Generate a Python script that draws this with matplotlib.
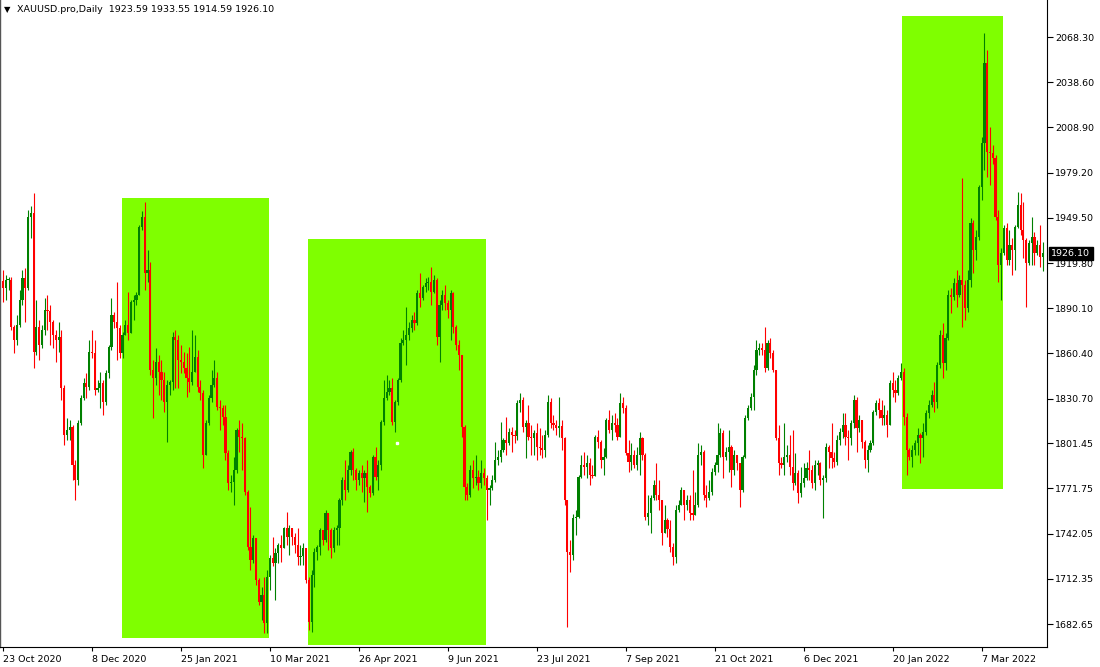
import numpy as np
import matplotlib.pyplot as plt
import matplotlib.transforms as mtransforms
from matplotlib.patches import Rectangle

# daily XAUUSD bars (open = previous close)
first_open = 1908.0
closes = [
    # Oct - Nov 2020
    1903.4, 1908.6, 1908.6, 1877.8, 1869.2, 1879.1, 1895.5, 1910.0, 1903.4, 1950.0, 1952.7, 1861.3,
    1877.8, 1865.9, 1875.8, 1888.9, 1888.3, 1881.0, 1872.5, 1869.2, 1871.2, 1837.7, 1806.8, 1810.1,
    1812.1, 1787.1, 1777.2, 1814.7, 1831.1, 1841.0, 1838.3, 1861.3,
    # Dec 2020 - Jan 2021
    1860.7, 1836.4, 1837.7, 1841.0, 1828.5, 1847.5, 1864.6, 1885.7, 1881.0, 1877.1, 1860.7, 1872.5,
    1879.1, 1873.8, 1894.2, 1895.5, 1898.8, 1943.5, 1950.0, 1913.2, 1915.2, 1849.5, 1844.3, 1854.8,
    1848.2, 1842.9, 1828.5, 1839.7, 1841.6, 1871.2, 1869.2,
    # Jan - Mar 2021
    1856.1, 1854.8, 1850.8, 1844.3, 1841.6, 1848.2, 1858.0, 1838.3, 1834.4, 1793.7, 1814.7, 1831.1,
    1839.7, 1844.3, 1825.2, 1824.5, 1818.6, 1795.0, 1775.3, 1775.9, 1783.8, 1810.1, 1805.5, 1804.8,
    1769.4, 1733.2, 1724.7, 1739.1, 1711.5, 1697.1, 1701.7, 1683.3,
    # Mar - Apr 2021
    1713.5, 1726.0, 1722.7, 1729.3, 1734.6, 1732.6, 1745.7, 1739.8, 1745.7, 1739.8, 1734.6, 1726.6,
    1727.3, 1732.6, 1711.5, 1683.9, 1714.8, 1729.9, 1733.2, 1744.4, 1737.8, 1755.6, 1744.4, 1732.6,
    1744.4, 1745.7, 1764.1, 1777.2, 1770.7, 1783.8, 1795.6, 1783.8,
    # Apr - Jun 2021
    1777.2, 1781.8, 1778.5, 1781.8, 1772.6, 1768.7, 1792.3, 1779.2, 1787.1, 1815.3, 1831.1, 1835.0,
    1837.7, 1815.3, 1828.5, 1842.9, 1867.2, 1869.2, 1872.5, 1877.1, 1882.4, 1880.4, 1900.1, 1896.8,
    1904.0, 1906.7, 1907.3, 1900.8, 1908.6, 1871.2, 1892.2, 1898.8,
    # Jun - Jul 2021
    1893.5, 1888.9, 1900.1, 1877.8, 1865.9, 1859.4, 1812.1, 1772.6, 1767.4, 1783.8, 1778.5, 1779.2,
    1775.3, 1781.8, 1778.5, 1770.7, 1772.0, 1777.2, 1790.4, 1792.3, 1796.9, 1803.5, 1801.5, 1808.8,
    1806.8, 1806.0, 1827.8, 1829.8, 1812.1, 1814.7, 1805.5,
    # Jul - Sep 2021
    1804.8, 1808.1, 1798.9, 1798.3, 1796.9, 1806.8, 1828.5, 1814.7, 1813.4, 1811.4, 1813.0, 1804.8,
    1764.1, 1729.9, 1728.0, 1752.3, 1752.9, 1779.2, 1787.1, 1785.8, 1788.4, 1780.5, 1779.8, 1805.5,
    1802.2, 1790.4, 1792.3, 1816.7, 1810.1, 1814.7, 1813.4, 1805.5,
    # Sep - Oct 2021
    1827.8, 1824.5, 1795.0, 1789.1, 1793.7, 1787.1, 1793.7, 1804.8, 1793.7, 1752.9, 1755.6, 1765.4,
    1773.9, 1767.4, 1764.1, 1742.4, 1751.0, 1745.0, 1733.2, 1726.6, 1757.5, 1760.8, 1770.7, 1760.8,
    1764.1, 1755.6, 1754.3, 1760.8, 1793.7, 1795.6, 1767.4,
    # Oct - Dec 2021
    1765.4, 1769.4, 1782.5, 1787.1, 1793.7, 1808.1, 1792.3, 1795.6, 1798.9, 1783.8, 1793.7, 1788.4,
    1770.7, 1792.3, 1818.0, 1824.5, 1831.8, 1849.5, 1862.6, 1863.9, 1862.6, 1850.8, 1867.2, 1860.7,
    1849.5, 1804.8, 1788.4, 1787.1, 1792.3, 1793.7, 1785.8, 1775.3,
    # Dec 2021 - Jan 2022
    1781.8, 1768.7, 1775.3, 1778.5, 1785.1, 1783.8, 1775.3, 1787.1, 1788.4, 1777.2, 1778.5, 1798.9,
    1795.6, 1791.7, 1789.1, 1803.5, 1808.8, 1813.4, 1805.5, 1804.8, 1814.7, 1829.8, 1811.4, 1816.7,
    1802.2, 1790.4, 1796.9, 1801.5, 1821.9, 1827.8, 1823.2, 1818.0,
    # Jan - Feb 2022
    1819.9, 1813.4, 1841.0, 1836.4, 1834.4, 1844.3, 1848.2, 1818.6, 1796.9, 1792.3, 1796.9, 1801.5,
    1806.8, 1804.8, 1808.8, 1821.3, 1826.5, 1833.1, 1828.5, 1852.8, 1872.5, 1854.1, 1870.5, 1898.8,
    1897.5, 1906.7, 1898.8, 1908.6, 1905.4, 1890.2, 1908.6,
    # Mar - Apr 2022
    1946.1, 1928.4, 1936.9, 1969.7, 1998.6, 2051.2, 1992.7, 1992.1, 1988.8, 1950.0, 1918.5, 1926.4,
    1942.8, 1921.8, 1931.6, 1928.4, 1943.5, 1957.9, 1941.5, 1934.9, 1919.8, 1932.9, 1936.9, 1926.4,
    1931.6, 1923.59, 1926.10,
]
highs = [
    1915.2, 1911.9, 1910.6, 1910.6, 1879.1, 1885.7, 1902.1, 1915.2, 1916.5, 1954.6, 1957.3, 1965.8,
    1895.5, 1882.4, 1879.1, 1896.8, 1898.8, 1892.2, 1882.4, 1875.8, 1881.0, 1875.8, 1839.7, 1818.0,
    1816.7, 1813.4, 1790.4, 1816.7, 1833.1, 1844.3, 1847.5, 1869.2,
    1875.8, 1869.2, 1842.9, 1848.2, 1842.9, 1849.5, 1865.9, 1896.8, 1887.6, 1907.3, 1879.1, 1874.5,
    1882.4, 1900.8, 1895.5, 1898.8, 1900.8, 1944.8, 1954.0, 1959.9, 1928.4, 1920.5, 1856.1, 1863.9,
    1859.4, 1856.1, 1848.2, 1842.9, 1842.9, 1874.5, 1875.8,
    1872.5, 1865.9, 1861.3, 1860.7, 1864.6, 1875.8, 1872.5, 1862.6, 1842.9, 1836.4, 1816.7, 1833.1,
    1849.5, 1856.1, 1848.2, 1829.8, 1826.5, 1826.5, 1796.9, 1780.5, 1792.3, 1811.4, 1816.7, 1814.7,
    1805.5, 1770.7, 1759.5, 1741.1, 1737.8, 1712.8, 1706.9, 1713.5,
    1718.1, 1728.0, 1739.8, 1732.6, 1735.9, 1741.1, 1746.4, 1756.2, 1747.7, 1745.7, 1742.4, 1745.7,
    1734.6, 1735.9, 1732.6, 1713.5, 1718.1, 1732.6, 1734.6, 1745.7, 1744.4, 1757.5, 1752.3, 1745.7,
    1746.4, 1747.7, 1765.4, 1779.2, 1790.4, 1787.1, 1796.9, 1798.3,
    1785.1, 1783.8, 1787.1, 1783.8, 1790.4, 1773.9, 1793.7, 1798.9, 1790.4, 1816.7, 1842.9, 1846.2,
    1842.9, 1844.3, 1829.8, 1844.3, 1870.5, 1875.8, 1890.9, 1881.0, 1885.7, 1887.6, 1902.1, 1913.2,
    1905.4, 1910.0, 1910.6, 1917.2, 1911.9, 1910.0, 1895.5, 1902.1,
    1905.4, 1895.5, 1902.1, 1900.8, 1879.1, 1869.2, 1859.4, 1813.4, 1775.3, 1787.1, 1790.4, 1793.7,
    1783.8, 1790.4, 1785.1, 1780.5, 1773.9, 1780.5, 1802.2, 1796.9, 1815.3, 1804.8, 1818.6, 1811.4,
    1812.1, 1810.1, 1829.8, 1834.4, 1831.8, 1816.7, 1826.5,
    1813.4, 1810.1, 1814.7, 1811.4, 1806.8, 1810.1, 1833.1, 1831.1, 1819.9, 1816.7, 1831.8, 1816.7,
    1805.5, 1764.1, 1737.8, 1754.9, 1757.5, 1780.5, 1793.7, 1795.6, 1793.7, 1791.7, 1787.1, 1806.8,
    1810.1, 1803.5, 1798.3, 1818.0, 1823.2, 1819.9, 1821.3, 1818.0,
    1834.4, 1831.8, 1826.5, 1803.5, 1801.5, 1796.9, 1798.9, 1808.8, 1805.5, 1795.0, 1767.4, 1767.4,
    1777.2, 1788.4, 1777.2, 1764.1, 1760.8, 1752.0, 1751.0, 1735.9, 1760.8, 1764.1, 1772.6, 1770.7,
    1767.4, 1767.4, 1783.8, 1769.4, 1801.5, 1800.2, 1796.9,
    1773.9, 1777.2, 1785.1, 1789.1, 1814.7, 1811.4, 1810.1, 1798.9, 1810.1, 1800.2, 1796.9, 1793.7,
    1783.8, 1793.7, 1819.9, 1826.5, 1834.4, 1852.8, 1869.2, 1867.2, 1867.2, 1877.8, 1869.2, 1870.5,
    1862.6, 1849.5, 1813.4, 1792.3, 1814.7, 1800.2, 1806.8, 1810.1,
    1795.0, 1783.8, 1785.8, 1788.4, 1789.1, 1796.9, 1787.1, 1790.4, 1790.4, 1789.1, 1780.5, 1801.5,
    1800.2, 1814.7, 1795.6, 1806.8, 1811.4, 1821.3, 1821.3, 1810.1, 1816.7, 1833.1, 1831.8, 1819.9,
    1816.7, 1803.5, 1800.2, 1803.5, 1823.2, 1829.8, 1831.1, 1829.8,
    1826.5, 1823.2, 1842.9, 1848.2, 1842.9, 1846.2, 1854.1, 1850.8, 1821.3, 1798.3, 1800.2, 1803.5,
    1811.4, 1808.1, 1814.7, 1823.2, 1829.8, 1836.4, 1841.6, 1854.8, 1875.8, 1880.4, 1873.8, 1902.1,
    1903.4, 1910.0, 1915.2, 1911.9, 1975.7, 1908.6, 1915.2,
    1949.4, 1948.1, 1941.5, 1971.1, 2002.6, 2070.9, 2059.8, 2009.2, 1997.3, 1990.8, 1954.6, 1929.7,
    1944.8, 1946.1, 1941.5, 1936.2, 1944.8, 1966.5, 1965.8, 1959.9, 1936.2, 1934.9, 1950.0, 1940.2,
    1934.9, 1944.8, 1933.55,
]
lows = [
    1894.2, 1895.5, 1902.1, 1875.8, 1860.7, 1865.9, 1877.8, 1892.2, 1881.0, 1902.1, 1936.2, 1850.8,
    1859.4, 1856.1, 1863.9, 1872.5, 1875.8, 1865.9, 1863.9, 1854.8, 1861.3, 1829.8, 1800.2, 1803.5,
    1803.5, 1777.2, 1764.1, 1773.9, 1813.4, 1829.8, 1831.1, 1836.4,
    1857.4, 1833.1, 1835.0, 1824.5, 1819.9, 1826.5, 1844.3, 1862.6, 1877.1, 1856.1, 1857.4, 1857.4,
    1872.5, 1869.2, 1875.8, 1882.4, 1892.2, 1906.7, 1941.5, 1902.1, 1907.3, 1846.2, 1818.0, 1839.7,
    1833.1, 1829.8, 1821.9, 1802.2, 1833.1, 1836.4, 1837.7,
    1837.7, 1847.5, 1847.5, 1831.8, 1835.0, 1839.7, 1849.5, 1835.0, 1829.8, 1785.1, 1795.0, 1813.4,
    1828.5, 1838.3, 1823.2, 1810.1, 1813.4, 1790.4, 1770.7, 1769.4, 1760.8, 1781.8, 1795.6, 1783.8,
    1767.4, 1731.2, 1718.1, 1722.7, 1708.3, 1695.1, 1685.2, 1676.7,
    1676.7, 1704.9, 1720.7, 1698.4, 1722.7, 1723.4, 1734.6, 1734.6, 1728.0, 1734.6, 1729.3, 1721.4,
    1721.4, 1721.4, 1709.6, 1678.7, 1677.4, 1706.9, 1724.7, 1728.0, 1734.6, 1736.5, 1731.2, 1726.0,
    1729.9, 1734.6, 1734.6, 1760.8, 1764.1, 1769.4, 1780.5, 1777.2,
    1770.7, 1773.9, 1769.4, 1762.8, 1756.2, 1766.1, 1767.4, 1777.2, 1770.7, 1783.8, 1813.4, 1829.8,
    1833.1, 1813.4, 1808.8, 1826.5, 1841.6, 1865.9, 1852.8, 1869.2, 1874.5, 1875.8, 1879.1, 1890.9,
    1895.5, 1900.8, 1902.1, 1892.2, 1900.1, 1865.9, 1854.8, 1888.9,
    1888.9, 1883.7, 1869.2, 1873.8, 1862.6, 1849.5, 1805.5, 1764.1, 1764.1, 1766.1, 1772.0, 1773.9,
    1770.7, 1772.0, 1773.9, 1751.0, 1760.8, 1770.7, 1775.9, 1787.1, 1789.1, 1795.6, 1793.7, 1800.2,
    1795.6, 1801.5, 1803.5, 1821.9, 1808.8, 1791.7, 1803.5,
    1793.7, 1793.7, 1790.4, 1793.7, 1791.7, 1792.3, 1805.5, 1811.4, 1810.1, 1806.8, 1805.5, 1796.9,
    1760.8, 1680.7, 1716.8, 1724.7, 1741.1, 1752.3, 1778.5, 1780.5, 1778.5, 1773.9, 1778.5, 1780.5,
    1798.3, 1785.1, 1780.5, 1791.7, 1808.1, 1803.5, 1808.8, 1803.5,
    1810.1, 1821.3, 1793.7, 1782.5, 1783.8, 1785.1, 1783.8, 1780.5, 1790.4, 1751.0, 1747.7, 1742.4,
    1764.1, 1764.1, 1757.5, 1734.6, 1744.4, 1740.0, 1729.9, 1721.4, 1722.7, 1756.2, 1760.8, 1751.0,
    1757.5, 1751.0, 1751.0, 1756.2, 1759.5, 1787.1, 1764.1,
    1759.5, 1764.1, 1767.4, 1780.5, 1782.5, 1792.3, 1778.5, 1790.4, 1782.5, 1772.6, 1780.5, 1783.8,
    1759.5, 1769.4, 1791.7, 1816.7, 1823.2, 1823.2, 1846.2, 1859.4, 1859.4, 1848.2, 1849.5, 1857.4,
    1848.2, 1803.5, 1780.5, 1785.1, 1780.5, 1789.1, 1780.5, 1770.7,
    1773.9, 1762.1, 1766.1, 1772.6, 1777.2, 1777.2, 1772.0, 1770.7, 1780.5, 1773.9, 1752.3, 1775.9,
    1785.1, 1785.1, 1785.8, 1787.1, 1800.2, 1804.8, 1800.2, 1790.4, 1800.2, 1811.4, 1795.6, 1808.8,
    1798.3, 1785.1, 1782.5, 1795.6, 1800.2, 1819.9, 1818.0, 1813.4,
    1813.4, 1805.5, 1814.7, 1831.8, 1828.5, 1833.1, 1842.9, 1813.4, 1780.5, 1790.4, 1785.8, 1793.7,
    1793.7, 1788.4, 1792.3, 1806.8, 1818.0, 1825.2, 1821.9, 1824.5, 1850.8, 1844.3, 1849.5, 1869.2,
    1887.0, 1895.5, 1890.9, 1897.5, 1877.8, 1882.4, 1887.6,
    1904.0, 1913.2, 1921.8, 1934.9, 1961.2, 1980.9, 1976.3, 1971.1, 1985.0, 1948.1, 1907.3, 1895.5,
    1925.1, 1918.5, 1918.5, 1911.9, 1915.2, 1942.8, 1938.2, 1923.1, 1890.9, 1918.5, 1918.5, 1918.5,
    1925.1, 1917.2, 1914.59,
]

date_labels = ["23 Oct 2020", "8 Dec 2020", "25 Jan 2021", "10 Mar 2021", "26 Apr 2021", "9 Jun 2021",
               "23 Jul 2021", "7 Sep 2021", "21 Oct 2021", "6 Dec 2021", "20 Jan 2022", "7 Mar 2022"]
bars_per_label = 32
price_ticks = [2068.30, 2038.60, 2008.90, 1979.20, 1949.50, 1919.80, 1890.10,
               1860.40, 1830.70, 1801.45, 1771.75, 1742.05, 1712.35, 1682.65]

# highlighted zones: (first bar, last bar, low price, high price)
zones = [(42.8, 95.7, 1673.4, 1962.5),
         (109.7, 173.7, 1668.8, 1935.6),
         (323.4, 359.7, 1771.3, 2082.1)]

closes = np.array(closes)
highs = np.array(highs)
lows = np.array(lows)
n = len(closes)
x = np.arange(n)
opens = np.concatenate([[first_open], closes[:-1]])
highs = np.maximum(highs, np.maximum(opens, closes))
lows = np.minimum(lows, np.minimum(opens, closes))
up = closes >= opens
colors = np.where(up, "#008000", "#ff0000")

fig = plt.figure(figsize=(11, 6.67), dpi=100)
ax = fig.add_axes([0.0, 20 / 667, 1047 / 1100, 647 / 667])

for x0, x1, p0, p1 in zones:
    ax.add_patch(Rectangle((x0, p0), x1 - x0, p1 - p0, facecolor="#7fff00",
                           edgecolor="none", zorder=1))
ax.plot([141.7], [1801.5], marker="s", ms=1.5, color="white", zorder=2)

ax.vlines(x, lows, highs, colors=colors, linewidth=0.8, zorder=3)
body_lo = np.minimum(opens, closes)
body_h = np.maximum(np.abs(closes - opens), 0.5)
ax.bar(x, body_h, bottom=body_lo, width=0.78, color=colors, linewidth=0, zorder=4)

ax.set_xlim(-1.08, 375.5)
ax.set_ylim(1667.54, 2092.61)

ax.spines["top"].set_visible(False)
ax.spines["left"].set_color("#555555")
ax.spines["left"].set_linewidth(1.0)
ax.spines["right"].set_linewidth(0.8)
ax.spines["bottom"].set_linewidth(0.8)

ax.yaxis.tick_right()
ax.set_yticks(price_ticks)
ax.set_yticklabels([f"{p:.2f}" for p in price_ticks])
ax.tick_params(axis="y", direction="out", length=4, width=0.8, labelsize=6.8, pad=2)

ax.set_xticks(np.arange(len(date_labels)) * bars_per_label)
ax.set_xticklabels(date_labels)
for lab in ax.get_xticklabels():
    lab.set_ha("left")
ax.tick_params(axis="x", direction="out", length=3, width=0.8, labelsize=6.8, pad=3)

# current price marker on the price scale
trans = mtransforms.blended_transform_factory(ax.transAxes, ax.transData)
ax.text(1.004, closes[-1], f"{closes[-1]:.2f}", transform=trans, color="white",
        fontsize=6.8, va="center", ha="left",
        bbox=dict(facecolor="black", edgecolor="black", boxstyle="square,pad=0.25"))

header = "XAUUSD.pro,Daily  {:.2f} {:.2f} {:.2f} {:.2f}".format(opens[-1], highs[-1], lows[-1], closes[-1])
fig.text(4 / 1100, 1 - 10 / 667, "\u25BC", fontsize=6, va="center", ha="left")
fig.text(17 / 1100, 1 - 10 / 667, header, fontsize=6.8, va="center", ha="left")

fig.savefig("out.png", dpi=100)
